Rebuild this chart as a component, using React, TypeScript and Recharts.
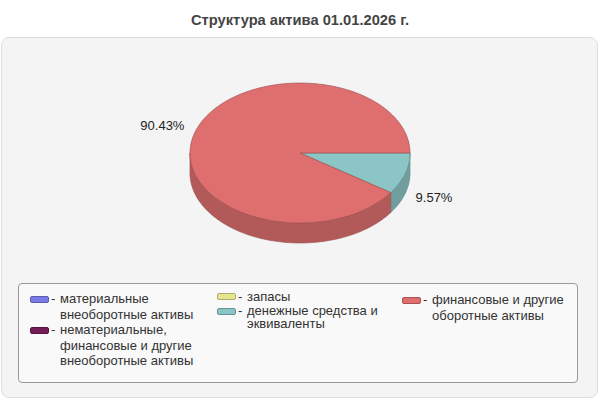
import React from 'react';
import { PieChart, Pie, Cell, Legend } from 'recharts';

const title = 'Структура актива 01.01.2026 г.';
const categories = [
  'материальные внеоборотные активы',
  'нематериальные, финансовые и другие внеоборотные активы',
  'запасы',
  'денежные средства и эквиваленты',
  'финансовые и другие оборотные активы',
];
const values = [0, 0, 0, 9.57, 90.43];
const colors = ['#7b7be8', '#741c56', '#e6e68e', '#8cc5c5', '#df6f6f'];

const data = categories.map((name, i) => ({ name, value: values[i] }));

const FONT = '"Liberation Sans", Arial, sans-serif';
const RY = 0.636;
const DEPTH = 20;

function darken(hex: string, f: number) {
  const n = parseInt(hex.slice(1), 16);
  const r = Math.round(((n >> 16) & 255) * f);
  const g = Math.round(((n >> 8) & 255) * f);
  const b = Math.round((n & 255) * f);
  return `rgb(${r},${g},${b})`;
}

function arcPts(cx: number, cy: number, rx: number, ry: number, a: number, b: number) {
  const pts: string[] = [];
  const steps = Math.max(2, Math.ceil(Math.abs(b - a)));
  for (let i = 0; i <= steps; i++) {
    const d = ((a + ((b - a) * i) / steps) * Math.PI) / 180;
    pts.push(`${(cx + rx * Math.cos(d)).toFixed(2)},${(cy - ry * Math.sin(d)).toFixed(2)}`);
  }
  return pts;
}

function Slice3D(props: any) {
  const { cx, cy, outerRadius, startAngle, endAngle, fill } = props;
  if (Math.abs(endAngle - startAngle) < 0.01) return null;
  const rx = outerRadius;
  const ry = outerRadius * RY;
  const lo = Math.min(startAngle, endAngle);
  const hi = Math.max(startAngle, endAngle);
  const side = darken(fill, 0.8);
  const edge = darken(fill, 0.72);
  const walls: React.ReactNode[] = [];
  for (let k = -2; k <= 1; k++) {
    const p = Math.max(lo, k * 360 - 180);
    const q = Math.min(hi, k * 360);
    if (q > p) {
      const top = arcPts(cx, cy, rx, ry, p, q);
      const bot = arcPts(cx, cy + DEPTH, rx, ry, q, p);
      walls.push(
        <path
          key={k}
          d={`M${top.join(' L')} L${bot.join(' L')} Z`}
          fill={side}
          stroke={edge}
          strokeWidth={0.7}
        />
      );
    }
  }
  const topPts = arcPts(cx, cy, rx, ry, lo, hi);
  return (
    <g>
      {walls}
      <path d={`M${cx},${cy} L${topPts.join(' L')} Z`} fill={fill} stroke={edge} strokeWidth={0.7} />
    </g>
  );
}

function renderLabel(p: any) {
  if (!p.value) return null;
  const r = p.outerRadius + 11;
  const rad = (p.midAngle * Math.PI) / 180;
  const x = p.cx + r * Math.cos(rad);
  const y = p.cy + DEPTH / 2 - 1.5 - r * Math.sin(rad);
  return (
    <text
      x={x}
      y={y}
      textAnchor={Math.cos(rad) >= 0 ? 'start' : 'end'}
      dominantBaseline="central"
      fontSize={13}
      fontFamily={FONT}
      fill="#222"
    >
      {`${p.value.toFixed(2)}%`}
    </text>
  );
}

const itemPos = [
  { left: 11, top: 7, lh: 15.5 },
  { left: 11, top: 38, lh: 15.5 },
  { left: 198, top: 4.5, lh: 15 },
  { left: 198, top: 21, lh: 12.5 },
  { left: 383, top: 8, lh: 16 },
];

function LegendBox() {
  return (
    <div
      style={{
        position: 'relative',
        boxSizing: 'border-box',
        width: 560,
        height: 100,
        border: '1px solid #9a9a9a',
        borderRadius: 4,
        background: '#f9f9f9',
        fontFamily: FONT,
        fontSize: 13,
        color: '#333',
      }}
    >
      {categories.map((c, i) => {
        const pos = itemPos[i];
        return (
          <div key={c} style={{ position: 'absolute', left: pos.left, top: pos.top, lineHeight: `${pos.lh}px` }}>
            <div
              style={{
                position: 'absolute',
                left: 0,
                top: pos.lh / 2 - 3,
                width: 19,
                height: 7,
                boxSizing: 'border-box',
                borderRadius: 2,
                background: colors[i],
                border: `1px solid ${darken(colors[i], 0.75)}`,
              }}
            />
            <div style={{ position: 'absolute', left: 21, top: 0, whiteSpace: 'nowrap' }}>-</div>
            <div style={{ position: 'absolute', left: 30, top: 0, width: 140 }}>{c}</div>
          </div>
        );
      })}
    </div>
  );
}

export default function App() {
  return (
    <div style={{ position: 'absolute', left: 0, top: 0, width: 600, height: 400, background: '#fff' }}>
      <div
        style={{
          position: 'absolute',
          left: 0,
          top: 11,
          width: 600,
          textAlign: 'center',
          fontFamily: FONT,
          fontWeight: 'bold',
          fontSize: 14.7,
          lineHeight: '18px',
          color: '#444',
        }}
      >
        {title}
      </div>
      <div
        style={{
          position: 'absolute',
          left: 1,
          top: 37,
          width: 597,
          height: 361,
          boxSizing: 'border-box',
          border: '1px solid #dedede',
          borderRadius: 8,
          background: '#f4f4f4',
        }}
      />
      <div style={{ position: 'absolute', left: 0, top: 0 }}>
        <PieChart width={600} height={400} margin={{ top: 0, right: 0, bottom: 0, left: 0 }}>
          <Pie
            data={data}
            dataKey="value"
            nameKey="name"
            cx={300}
            cy={153}
            outerRadius={110}
            startAngle={0}
            endAngle={-360}
            isAnimationActive={false}
            labelLine={false}
            label={renderLabel}
            shape={Slice3D}
            activeShape={Slice3D}
            inactiveShape={Slice3D}
          >
            {data.map((d, i) => (
              <Cell key={d.name} fill={colors[i]} />
            ))}
          </Pie>
          <Legend
            content={() => <LegendBox />}
            wrapperStyle={{ position: 'absolute', left: 18, top: 283, width: 560, height: 100 }}
          />
        </PieChart>
      </div>
    </div>
  );
}
